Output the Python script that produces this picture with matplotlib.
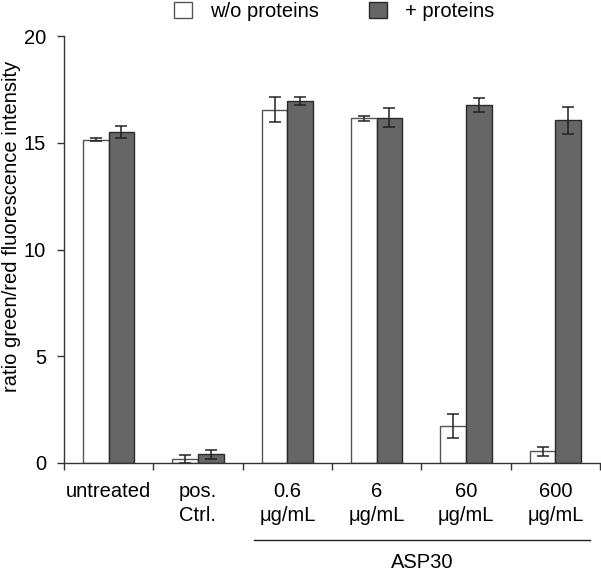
import matplotlib
matplotlib.use("Agg")
import matplotlib.pyplot as plt
import matplotlib.transforms as mtransforms
from matplotlib.patches import Patch
import numpy as np

plt.rcParams['font.family'] = ['Liberation Sans', 'DejaVu Sans']

categories = ['untreated', 'pos.\nCtrl.', '0.6\nμg/mL', '6\nμg/mL', '60\nμg/mL', '600\nμg/mL']
wo_vals = [15.15, 0.2, 16.55, 16.14, 1.73, 0.55]
wo_err = [0.05, 0.18, 0.58, 0.12, 0.55, 0.2]
plus_vals = [15.5, 0.4, 16.95, 16.18, 16.78, 16.05]
plus_err = [0.28, 0.23, 0.2, 0.45, 0.33, 0.63]
yticks = [0, 5, 10, 15, 20]
series_names = ['w/o proteins', '+ proteins']
group_label = 'ASP30'
ylabel = 'ratio green/red fluorescence intensity'

FS = 14.5

fig = plt.figure(figsize=(6.01, 5.71), dpi=100)
ax = fig.add_axes([64/601, 1-463/571, 536/601, 427/571])

x = np.arange(len(categories))
w = 0.287
ek = dict(ecolor='#222222', elinewidth=1.1, capsize=4, capthick=1.1)
ax.bar(x - w/2, wo_vals, w, yerr=wo_err, color='white', edgecolor='#555555',
       linewidth=1.0, error_kw=ek, zorder=2)
ax.bar(x + w/2, plus_vals, w, yerr=plus_err, color='#666666', edgecolor='#2a2a2a',
       linewidth=1.0, error_kw=ek, zorder=2)

ax.set_xlim(-0.5, len(categories) - 0.5)
ax.set_ylim(0, 20)
ax.set_yticks(yticks)
ax.set_xticks(x)
ax.set_xticklabels(categories, fontsize=FS, linespacing=1.3)
ax.set_xticks(np.arange(len(categories) + 1) - 0.5, minor=True)
ax.tick_params(axis='x', which='major', length=0, pad=14)
ax.tick_params(axis='x', which='minor', length=5, width=1.0, color='#333333', direction='out')
ax.tick_params(axis='y', length=5, width=1.0, color='#333333', labelsize=FS, pad=8)

for s in ['top', 'right']:
    ax.spines[s].set_visible(False)
for s in ['left', 'bottom']:
    ax.spines[s].set_color('#333333')
    ax.spines[s].set_linewidth(1.0)

fig.text(12/601, 1 - 226/571, ylabel, rotation=90, ha='center', va='center', fontsize=FS)

trans = mtransforms.blended_transform_factory(ax.transData, ax.transAxes)
ax.plot([1.627, 5.39], [-0.180, -0.180], color='#222222', lw=1.0,
        transform=trans, clip_on=False)
ax.text(3.51, -0.233, group_label, transform=trans, ha='center', va='center',
        fontsize=FS)

handles = [Patch(facecolor='white', edgecolor='#555555', linewidth=1.0),
           Patch(facecolor='#666666', edgecolor='#2a2a2a', linewidth=1.0)]
fig.legend(handles, series_names, loc='upper center', bbox_to_anchor=(334/601, 1.0 + 0.011),
           ncol=2, frameon=False, fontsize=FS, handlelength=0.9, handleheight=0.9,
           handletextpad=0.9, columnspacing=2.5, borderaxespad=0.0)

fig.savefig('out.png', dpi=100)
